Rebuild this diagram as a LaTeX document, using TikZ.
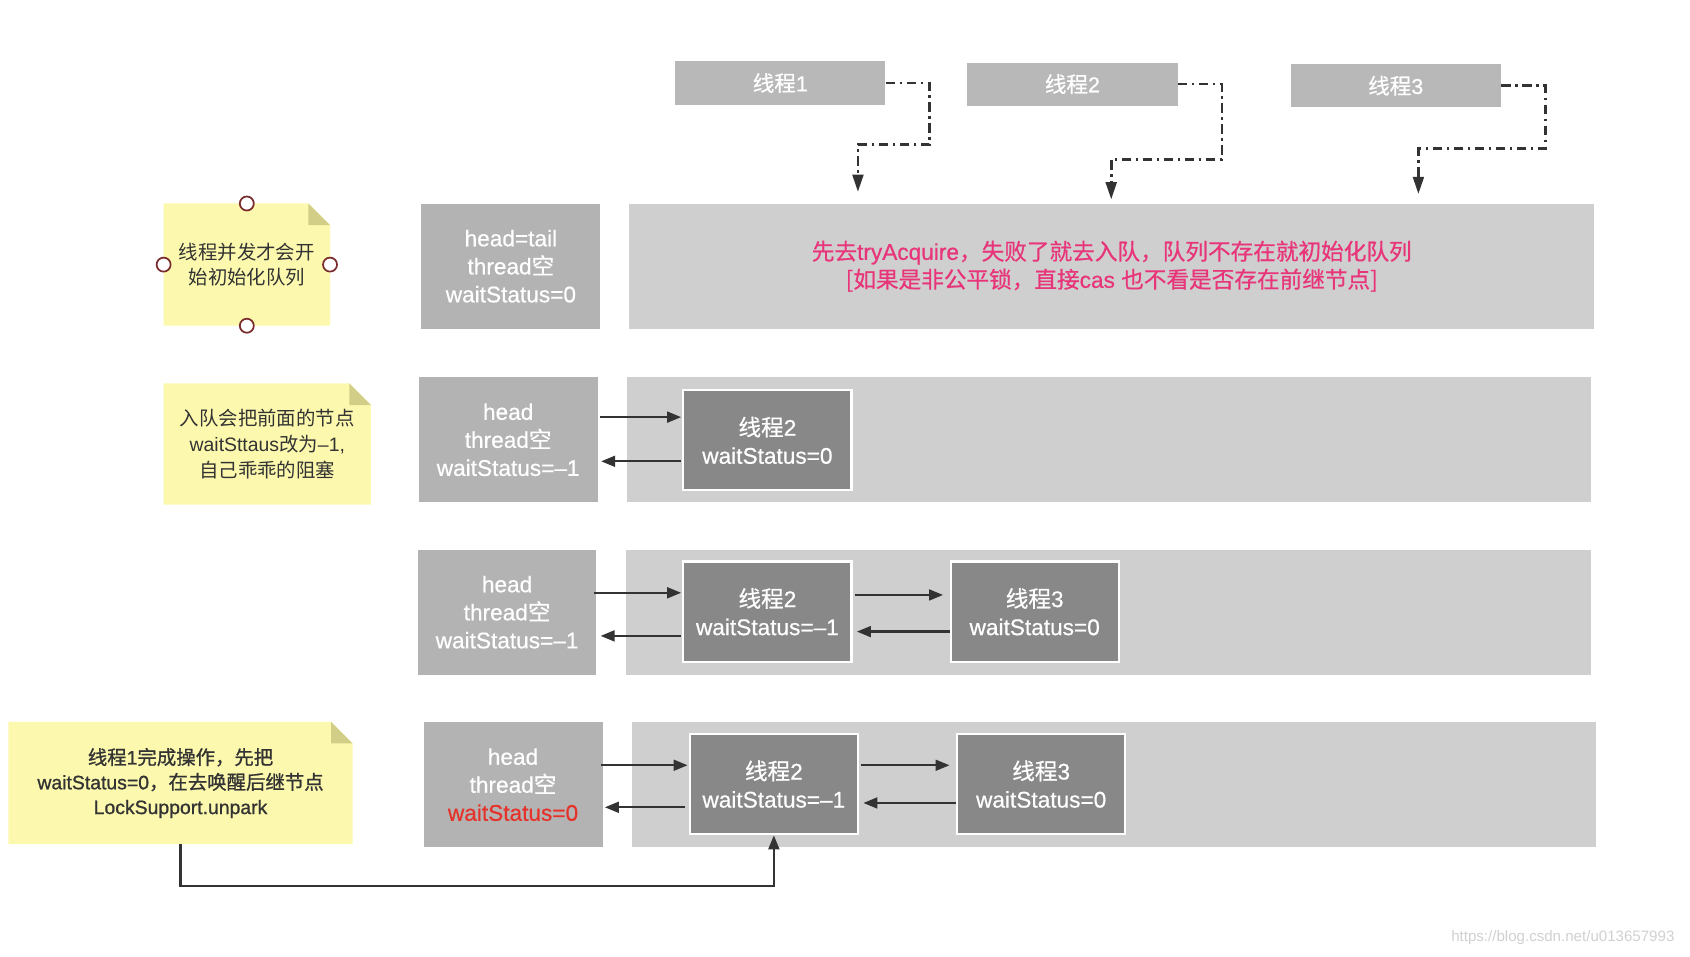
\documentclass[tikz,border=0pt]{standalone}
\usepackage{fontspec}
\setmainfont{Liberation Sans}
\newfontfamily\cjk{Noto Sans CJK SC}
\newfontfamily\latm[FakeBold=0.6]{Liberation Sans}
\newfontfamily\cjkm[FakeBold=0.6]{Noto Sans CJK SC}
\newfontfamily\latb[FakeBold=1.0]{Liberation Sans}
\newfontfamily\cjkb[FakeBold=1.0]{Noto Sans CJK SC}
\usetikzlibrary{arrows.meta,backgrounds,calc}
\definecolor{thrC}{HTML}{B8B8B8}
\definecolor{hdC}{HTML}{B3B3B3}
\definecolor{laneC}{HTML}{CFCFCF}
\definecolor{innerC}{HTML}{888888}
\definecolor{noteY}{HTML}{FCF9AE}
\definecolor{noteF}{HTML}{D2CE88}
\definecolor{pinkT}{HTML}{E8357A}
\definecolor{redT}{HTML}{E5322B}
\definecolor{lnC}{HTML}{333333}
\definecolor{hndC}{HTML}{7A2C2C}
\definecolor{noteT}{HTML}{333333}
\def\zhfont{\cjk}
\newcommand\zh[1]{{\zhfont #1}}
\tikzset{
  boxfont/.style={font=\latm\let\zhfont\cjkm\fontsize{21}{26}\selectfont},
  threadbox/.style={fill=thrC, inner sep=0, minimum width=195, minimum height=40, text=white, font=\latm\let\zhfont\cjkm\fontsize{20}{24}\selectfont},
  headbox/.style={fill=hdC, inner sep=0, minimum width=166, minimum height=116, text=white, align=center, boxfont},
  lanebox/.style={fill=laneC, inner sep=0, minimum width=895, minimum height=116, align=center, boxfont},
  innerbox/.style={fill=innerC, draw=white, line width=2pt, inner sep=0, minimum width=156, minimum height=93, text=white, align=center, boxfont},
  notebox/.style={inner sep=0, align=center, text=noteT, font=\fontsize{18}{24}\selectfont},
  boldnote/.style={font=\latb\let\zhfont\cjkb\fontsize{18}{23}\selectfont},
  handle/.style={circle, draw=hndC, fill=white, line width=1.6pt, minimum size=13, inner sep=0},
  arr/.style={draw=lnC, line width=2.2pt, -{Triangle[length=13pt,width=10pt]}},
  dd/.style={draw=lnC, line width=2.5pt, dash pattern=on 9pt off 4pt on 2.5pt off 4pt, -{Triangle[length=16pt,width=10pt]}},
}
\newcommand\notebg[1]{%
  \fill[noteY] (#1.south west) -- (#1.north west) -- ([xshift=-20pt]#1.north east) -- ([yshift=-20pt]#1.north east) -- (#1.south east) -- cycle;
  \fill[noteF] ([xshift=-20pt]#1.north east) -- ([yshift=-20pt]#1.north east) -- ([xshift=-20pt,yshift=-20pt]#1.north east) -- cycle;}
\begin{document}
\begin{tikzpicture}[x=1pt,y=-1pt]
\path[use as bounding box] (0,0) rectangle (1568,887);
\begin{scope}[on background layer]
\fill[white] (0,0) rectangle (1568,887);
\end{scope}

% top thread boxes
\node[threadbox] (t1) at (724,77) {\zh{线程}1};
\node[threadbox] (t2) at (995,78) {\zh{线程}2};
\node[threadbox] (t3) at (1295,79.5) {\zh{线程}3};

% row 1
\node[notebox, minimum width=154, minimum height=113] (note1) at (229,245.5) {\zh{线程并发才会开}\\\zh{始初始化队列}};
\node[headbox] (head1) at (474,247) {head=tail\\thread\zh{空}\\waitStatus=0};
\node[lanebox, text=pinkT] (lane1) at (1031.5,247) {\zh{先去}tryAcquire\zh{，失败了就去入队，队列不存在就初始化队列}\\\zh{[如果是非公平锁，直接}cas \zh{也不看是否存在前继节点]}};

% row 2
\node[notebox, minimum width=192, minimum height=112] (note2) at (248,412) {\zh{入队会把前面的节点}\\waitSttaus\zh{改为}–1,\\\zh{自己乖乖的阻塞}};
\node[headbox] (head2) at (471.5,408) {head\\thread\zh{空}\\waitStatus=–1};
\node[lanebox, minimum width=894] (lane2) at (1029,408) {};
\node[innerbox] (n2a) at (712,408.5) {\zh{线程}2\\waitStatus=0};

% row 3
\node[headbox, minimum width=165] (head3) at (470.5,568) {head\\thread\zh{空}\\waitStatus=–1};
\node[lanebox] (lane3) at (1028.5,568) {};
\node[innerbox] (n3a) at (712,567.5) {\zh{线程}2\\waitStatus=–1};
\node[innerbox] (n3b) at (960,567.5) {\zh{线程}3\\waitStatus=0};

% row 4
\node[notebox, boldnote, minimum width=319, minimum height=113] (note3) at (167.5,726.5) {\zh{线程}1\zh{完成操作，先把}\\waitStatus=0\zh{，在去唤醒后继节点}\\LockSupport.unpark};
\node[headbox] (head4) at (476,728) {head\\thread\zh{空}\\\textcolor{redT}{waitStatus=0}};
\node[lanebox] (lane4) at (1033.5,728) {};
\node[innerbox] (n4a) at (718,727.5) {\zh{线程}2\\waitStatus=–1};
\node[innerbox] (n4b) at (966,727.5) {\zh{线程}3\\waitStatus=0};

\begin{scope}[on background layer]
\notebg{note1}
\notebg{note2}
\notebg{note3}
\end{scope}

% handles on note 1
\node[handle] (hN) at (note1.north) {};
\node[handle] (hS) at (note1.south) {};
\node[handle] (hW) at (note1.west) {};
\node[handle] (hE) at (note1.east) {};

% dash-dot connectors
\coordinate (a1) at (796,178);
\coordinate (a2) at (1031,185);
\coordinate (a3) at (1316,180);
\draw[dd] (t1.east) -- ++(41,0) -- ++(0,57) -| (a1);
\draw[dd] (t2.east) -- ++(41,0) -- ++(0,70) -| (a2);
\draw[dd] (t3.east) -- ++(41,0) -- ++(0,58.5) -| (a3);

% row 2 arrows
\draw[arr] ($(head2.east)+(2,-21)$) -- ($(n2a.west)+(-1,-21.5)$);
\draw[arr] ($(n2a.west)+(-1,19.5)$) -- ($(head2.east)+(3,20)$);
% row 3 arrows
\draw[arr] ($(head3.east)+(-2,-18)$) -- ($(n3a.west)+(-1,-17.5)$);
\draw[arr] ($(n3a.west)+(-1,22.5)$) -- ($(head3.east)+(4,22)$);
\draw[arr] ($(n3a.east)+(2,-15.5)$) -- ($(n3b.west)+(-6,-15.5)$);
\draw[arr] ($(n3b.west)+(0,18.5)$) -- ($(n3a.east)+(4,18.5)$);
% row 4 arrows
\draw[arr] ($(head4.east)+(-2,-18)$) -- ($(n4a.west)+(-1,-17.5)$);
\draw[arr] ($(n4a.west)+(-3,21.5)$) -- ($(head4.east)+(2,21)$);
\draw[arr] ($(n4a.east)+(2,-17.5)$) -- ($(n4b.west)+(-6,-17.5)$);
\draw[arr] ($(n4b.west)+(0,17.5)$) -- ($(n4a.east)+(4,17.5)$);

% unpark connector
\coordinate (bend) at (167.5,822);
\draw[arr] (note3.south) -- (bend) -| (n4a.south);

% watermark
\node[text=black!18, font=\fontsize{14}{16}\selectfont] (wm) at (1450,870) {https://blog.csdn.net/u013657993};
\end{tikzpicture}
\end{document}
